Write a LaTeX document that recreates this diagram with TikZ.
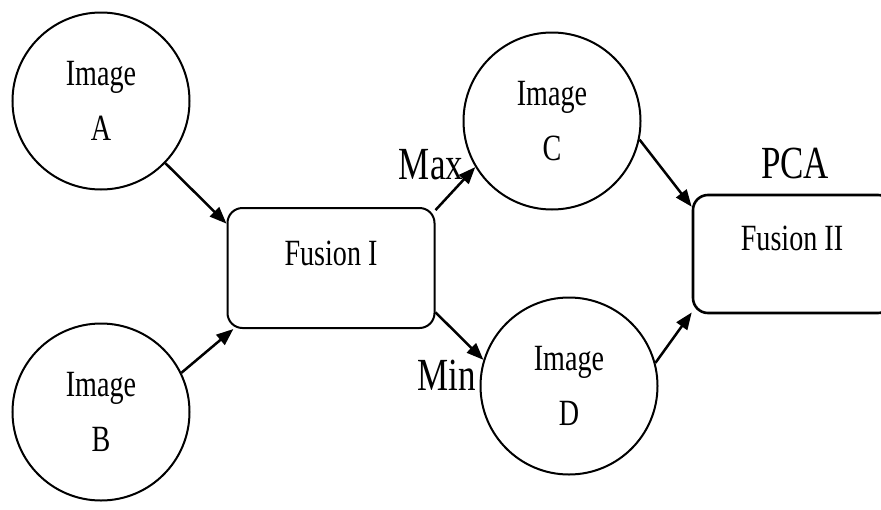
\documentclass[tikz,border=0pt]{standalone}
\usepackage{fontspec}
\setmainfont{Liberation Serif}[FakeStretch=0.76]
\usetikzlibrary{arrows.meta}
\begin{document}
\begin{tikzpicture}[x=1pt,y=-1pt,
  imgnode/.style={circle,draw,line width=2pt,minimum size=177pt,inner sep=0pt,align=center,
    font=\fontsize{37}{55}\selectfont,text=black},
  boxnode/.style={draw,line width=2pt,rounded corners=15pt,inner sep=0pt},
  txt/.style={font=\fontsize{37}{44}\selectfont,text=black,inner sep=0pt},
  biglabel/.style={font=\fontsize{46}{50}\selectfont,text=black,inner sep=0pt},
  conn/.style={line width=2.5pt,-{Triangle[length=17pt,width=13pt]}}]
\useasboundingbox (0,0) rectangle (881,509);
\clip (0,0) rectangle (881,509);
\node[imgnode] (A) at (101,101) {Image\\A};
\node[imgnode] (B) at (101,412) {Image\\B};
\node[imgnode] (C) at (552,121) {Image\\C};
\node[imgnode] (D) at (569,386) {Image\\D};
\node[boxnode,minimum width=207pt,minimum height=120pt] (F1) at (331,268) {};
\node[txt] (F1t) at (331,253) {Fusion I};
\node[boxnode,line width=2.6pt,minimum width=200pt,minimum height=118pt] (F2) at (793,254) {};
\node[txt] (F2t) at (792,238) {Fusion II};
\node[biglabel] (max) at (431,165) {Max};
\node[biglabel] (min) at (447,375) {Min};
\node[biglabel] (pca) at (795,163) {PCA};
\draw[conn] (A.-44) -- (F1.157);
\draw[conn] (B.26) -- (F1.212);
\draw[conn] (F1.29) -- (C.211);
\draw[conn] (F1.-23) -- (D.163);
\draw[conn] (C.-12) -- (F2.155);
\draw[conn] (D.15) -- (F2.210);
\end{tikzpicture}
\end{document}
